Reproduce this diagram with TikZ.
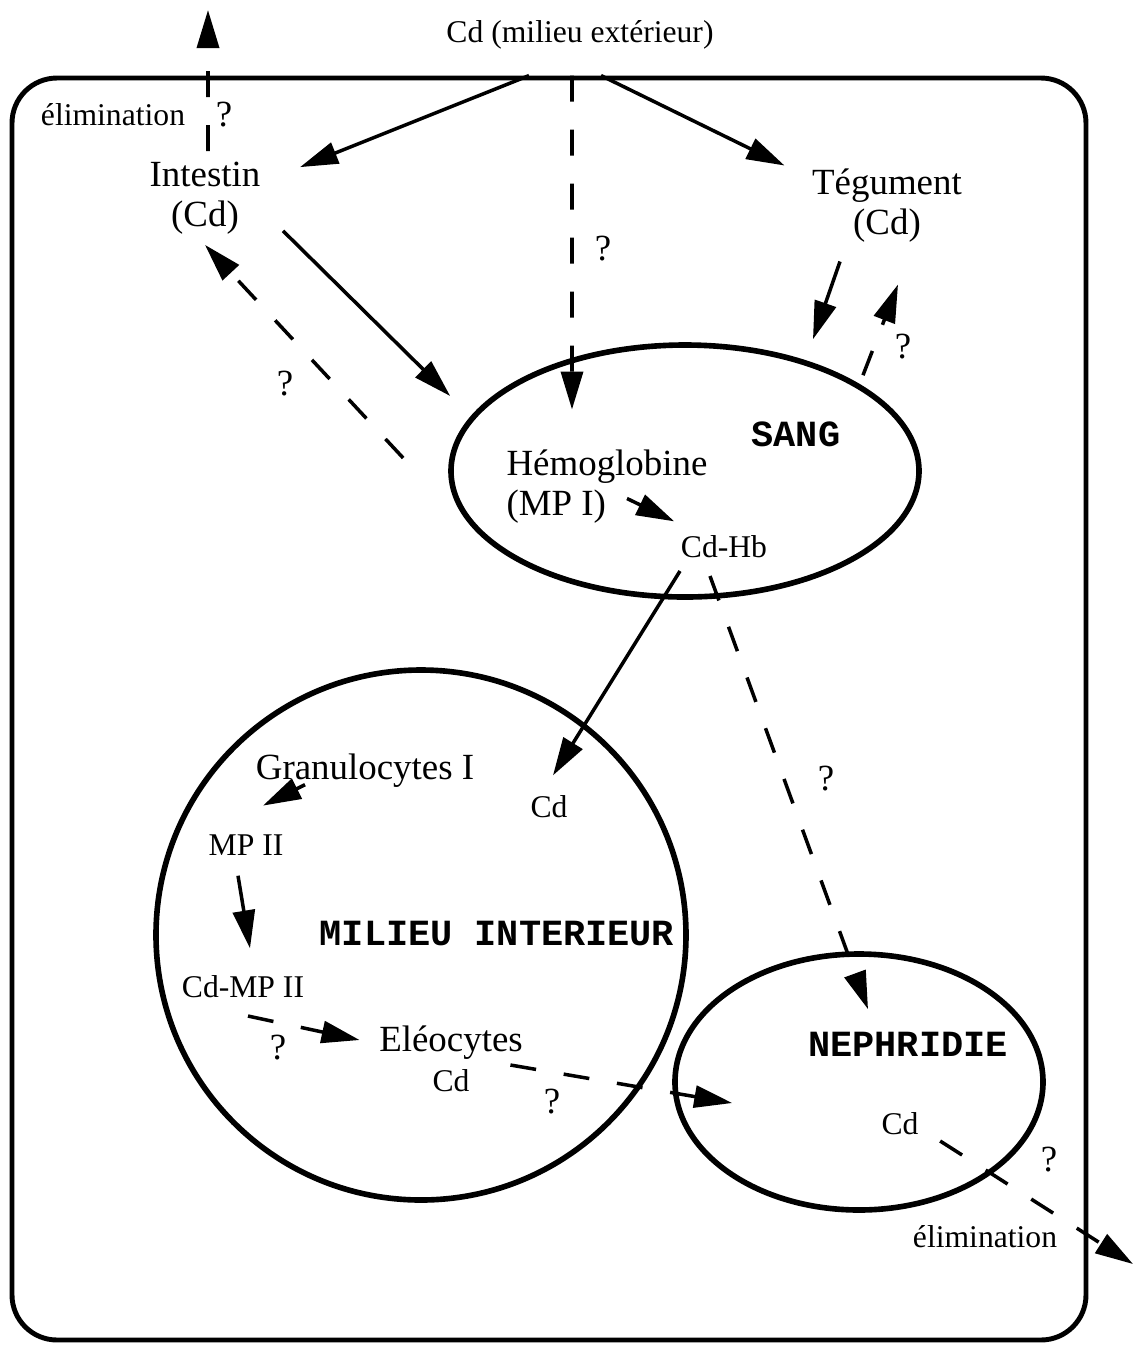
\documentclass[tikz,border=0pt]{standalone}
\usepackage{fontspec}
\setmainfont{Liberation Serif}
\newfontfamily\mono{Liberation Mono}
\usetikzlibrary{arrows.meta,shapes.geometric}

\newcommand{\grand}{\fontsize{10.5}{11.4}\selectfont}
\newcommand{\petit}{\fontsize{9}{10.5}\selectfont}
\newcommand{\capit}{\mono\bfseries\fontsize{10.5}{12}\selectfont}

\tikzset{
  fl/.style={-{Triangle[length=3.8mm,width=2.2mm]},line width=1pt},
  flp/.style={fl,dash pattern=on 2.6mm off 2.8mm},
  txt/.style={inner sep=0pt,font=\grand},
  pt/.style={inner sep=0pt,font=\petit},
  titre/.style={inner sep=0pt,font=\capit,anchor=base},
  organe/.style={draw,line width=1.6pt,inner sep=0pt},
}

\begin{document}
\begin{tikzpicture}[x=.1mm,y=-.1mm]
\useasboundingbox (0,0) rectangle (1136,1346);
% corps du ver
\node[draw,line width=1.4pt,rounded corners=4.5mm,minimum width=107.4mm,minimum height=126.2mm,inner sep=0pt] (corps) at (549,709) {};
\node[pt,anchor=base] (exterieur) at (580,42) {Cd (milieu extérieur)};
\node[pt,anchor=base] (elim1) at (113,125) {élimination};
\coordinate (rejet1) at (208,10);
\coordinate (rejet2) at (1133,1264);

% organes
\node[txt,align=center] (intestin) at (205,198) {Intestin\\(Cd)};
\node[txt,align=center] (tegument) at (887,206) {Tégument\\(Cd)};
\node[organe,ellipse,minimum width=46.8mm,minimum height=25.2mm] (sang) at (685,471) {};
\node[titre] (sanglbl) at (796,446) {SANG};
\node[txt,align=left] (hemo) at (607,487) {Hémoglobine\\(MP I)};
\node[pt,anchor=base] (cdhb) at (724,557) {Cd-Hb};
\node[organe,circle,minimum size=53mm] (milieu) at (421,935) {};
\node[titre] (milieulbl) at (497,945) {MILIEU INTERIEUR};
\node[txt,anchor=base] (granulo) at (365,779) {Granulocytes I};
\node[pt,anchor=base] (cdin) at (549,817) {Cd};
\node[pt,anchor=base] (mp2) at (246,855) {MP II};
\node[pt,anchor=base] (cdmp2) at (243,997) {Cd-MP II};
\node[txt,align=center] (eleo) at (451,1059) {Eléocytes\\{\petit Cd}};
\node[organe,ellipse,minimum width=36.8mm,minimum height=25.6mm] (nephri) at (859,1082) {};
\node[titre] (nephlbl) at (908,1056) {NEPHRIDIE};
\node[pt,anchor=base] (cdneph) at (900,1134) {Cd};
\node[pt,anchor=base] (elim2) at (985,1247) {élimination};

% points d'interrogation
\foreach \x/\y [count=\i] in {224/126,603/260,285/395,903/358,826/790,278/1059,552/1113,1049/1171}
  \node[txt,anchor=base] (q\i) at (\x,\y) {?};

% voies du cadmium
\draw[fl] ([xshift=-2mm]corps.north) -- ([xshift=3.9mm,yshift=-.6mm]intestin.north east);
\draw[fl] ([xshift=5.2mm]corps.north) -- ([xshift=-2.7mm,yshift=.3mm]tegument.north west);
\draw[flp] ([xshift=2.3mm]corps.north) -- ([xshift=-3.5mm,yshift=4mm]hemo.north);
\draw[flp] ([xshift=.3mm,yshift=1mm]intestin.north) -- (rejet1);
\draw[fl] ([xshift=2.2mm,yshift=.4mm]intestin.south east) -- ([xshift=.2mm,yshift=7.5mm]sang.west);
\draw[flp] ([xshift=-4.5mm,yshift=1.3mm]sang.west) -- ([yshift=-1mm]intestin.south);
\draw[fl] ([xshift=-4.7mm,yshift=-1.8mm]tegument.south) -- ([xshift=12.8mm,yshift=.3mm]sang.north);
\draw[flp] ([xshift=17.8mm,yshift=-3.3mm]sang.north) -- ([xshift=1.1mm,yshift=-4.1mm]tegument.south);
\draw[fl] ([xshift=2mm,yshift=2.6mm]hemo.south) -- ([xshift=-.6mm,yshift=1.3mm]cdhb.north west);
\draw[fl] ([xshift=-4.4mm,yshift=-1.3mm]cdhb.south) -- ([xshift=.4mm,yshift=1.9mm]cdin.north);
\draw[flp] ([xshift=-1.4mm,yshift=-1.8mm]cdhb.south) -- ([xshift=.9mm,yshift=-5.8mm]nephri.north);
\draw[fl] ([xshift=-6mm,yshift=.3mm]granulo.south) -- ([xshift=1.7mm,yshift=2.8mm]mp2.north);
\draw[fl] ([xshift=-.8mm,yshift=-2mm]mp2.south) -- ([xshift=.7mm,yshift=2.6mm]cdmp2.north);
\draw[flp] ([xshift=.5mm,yshift=-1.8mm]cdmp2.south) -- ([xshift=-1.9mm,yshift=1.9mm]eleo.west);
\draw[flp] ([xshift=-1.3mm,yshift=-.6mm]eleo.east) -- ([xshift=6mm,yshift=-2.1mm]nephri.west);
\draw[flp] ([xshift=2.1mm,yshift=-.6mm]cdneph.south east) -- (rejet2);
\end{tikzpicture}
\end{document}
